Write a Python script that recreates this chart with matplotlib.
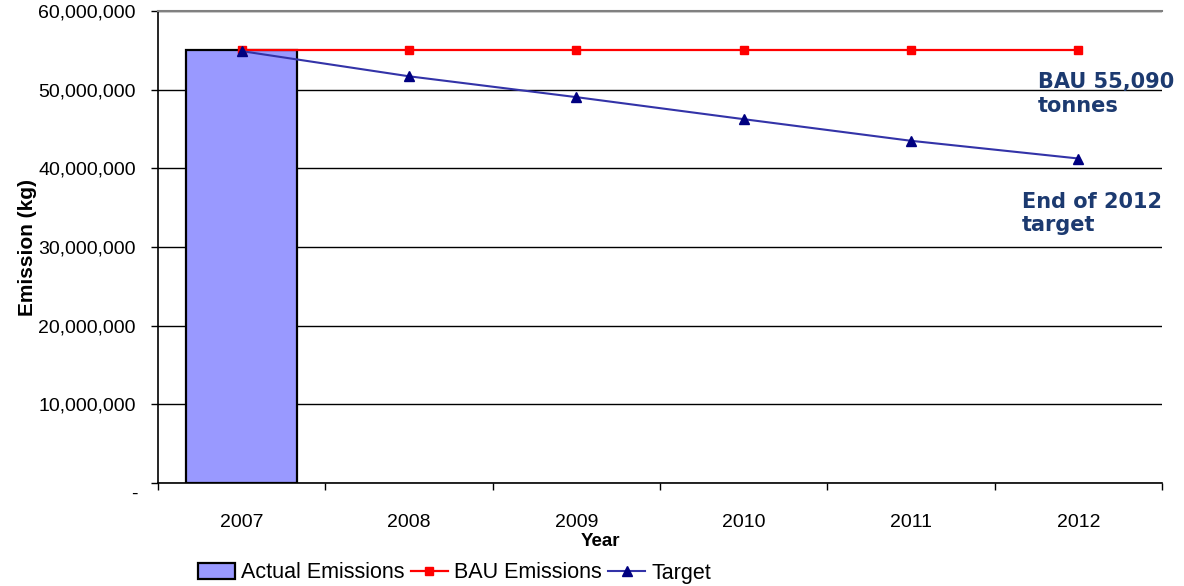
import numpy as np
import matplotlib.pyplot as plt
from matplotlib.patches import Patch
from matplotlib.lines import Line2D
from matplotlib.ticker import FuncFormatter, FixedLocator

years = ["2007", "2008", "2009", "2010", "2011", "2012"]
actual = [55_090_000, 0, 0, 0, 0, 0]
bau = [55_090_000, 55_090_000, 55_090_000, 55_090_000, 55_090_000, 55_090_000]
target = [54_900_000, 51_700_000, 49_050_000, 46_250_000, 43_500_000, 41_250_000]

plt.rcParams["font.family"] = ["Liberation Sans", "DejaVu Sans"]

fig = plt.figure(figsize=(11.84, 5.86), dpi=100)
ax = fig.add_axes([158 / 1184, 1 - 483 / 586, 1004 / 1184, 472 / 586])

x = np.arange(len(years))

# only 2007 has a measured value
ax.bar(x[:1], actual[:1], width=0.66, color="#9999ff", edgecolor="black",
       linewidth=1.6, zorder=2)
ax.plot(x, bau, color="#ff0000", lw=1.6, marker="s", markersize=6,
        markerfacecolor="#ff0000", markeredgecolor="#ff0000", zorder=3)
ax.plot(x, target, color="#3333a8", lw=1.5, marker="^", markersize=7,
        markerfacecolor="#000080", markeredgecolor="#000080", zorder=4)

ax.set_xlim(-0.5, len(years) - 0.5)
ax.set_ylim(0, 60_000_000)

# gridlines every 10 million, top one drawn as grey spine
ax.set_yticks(np.arange(0, 60_000_001, 10_000_000))
ax.yaxis.set_major_formatter(FuncFormatter(lambda v, p: f"{v:,.0f}" if v else ""))
ax.grid(axis="y", color="black", linewidth=1.0, zorder=0)
ax.set_axisbelow(True)
ax.tick_params(axis="y", direction="out", length=5, width=1, pad=11,
               labelsize=14)
ax.annotate("-", xy=(0, 0), xycoords=ax.get_yaxis_transform(),
            xytext=(-15, -8), textcoords="offset points",
            ha="right", va="center", fontsize=14)

ax.set_xticks(x)
ax.set_xticklabels(years)
ax.xaxis.set_minor_locator(FixedLocator(np.arange(-0.5, len(years), 1.0)))
ax.tick_params(axis="x", which="major", length=0, pad=22, labelsize=14)
ax.tick_params(axis="x", which="minor", direction="out", length=5, width=1)

for side in ("left", "bottom"):
    ax.spines[side].set_color("black")
    ax.spines[side].set_linewidth(1.2)
ax.spines["right"].set_visible(False)
ax.spines["top"].set_color("#808080")
ax.spines["top"].set_linewidth(1.5)

ax.set_ylabel("Emission (kg)", fontsize=15, fontweight="bold", labelpad=1)
ax.set_xlabel("Year", fontsize=13.5, fontweight="bold", labelpad=0)
ax.xaxis.set_label_coords((600 - 158) / 1004, -0.106)

note_color = "#1c3a70"
ax.text(0.8765, 0.870, "BAU 55,090\ntonnes", transform=ax.transAxes,
        ha="left", va="top", fontsize=15, fontweight="bold",
        family="DejaVu Sans", color=note_color, linespacing=1.2)
ax.text(0.8606, 0.616, "End of 2012\ntarget", transform=ax.transAxes,
        ha="left", va="top", fontsize=15, fontweight="bold",
        family="DejaVu Sans", color=note_color, linespacing=1.2)

handles = [
    Patch(facecolor="#9999ff", edgecolor="black", linewidth=1.6),
    Line2D([], [], color="#ff0000", lw=1.6, marker="s", markersize=6),
    Line2D([], [], color="#3333a8", lw=1.5, marker="^", markersize=7,
           markerfacecolor="#000080", markeredgecolor="#000080"),
]
fig.legend(handles, ["Actual Emissions", "BAU Emissions", "Target"],
           loc="center left", bbox_to_anchor=(198 / 1184, 1 - 573 / 586),
           ncol=3, frameon=False, fontsize=15.5, handlelength=1.7,
           handletextpad=0.3, columnspacing=0.3, borderpad=0,
           borderaxespad=0)

fig.savefig("out.png", dpi=100)
